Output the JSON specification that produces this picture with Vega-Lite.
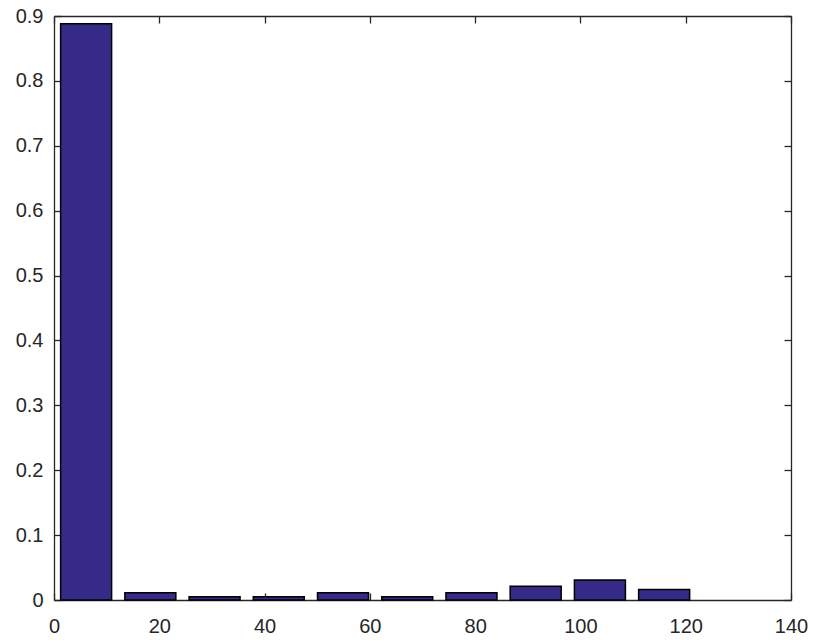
{
  "$schema": "https://vega.github.io/schema/vega-lite/v6.json",
  "width": 737,
  "height": 584,
  "autosize": {"type": "none"},
  "padding": {"left": 54, "top": 16, "right": 40, "bottom": 44},
  "background": "white",
  "config": {
    "view": {"stroke": null},
    "axis": {
      "grid": false,
      "domainColor": "#262626",
      "domainWidth": 1.3,
      "tickColor": "#262626",
      "tickWidth": 1.3,
      "labelColor": "#262626",
      "labelFont": "Liberation Sans",
      "labelFontSize": 20,
      "labelFlush": false,
      "labelOverlap": false,
      "title": null
    }
  },
  "data": {
    "values": [
      {"center": 6.1, "value": 0.888},
      {"center": 18.3, "value": 0.011},
      {"center": 30.5, "value": 0.005},
      {"center": 42.7, "value": 0.005},
      {"center": 54.9, "value": 0.011},
      {"center": 67.1, "value": 0.005},
      {"center": 79.3, "value": 0.011},
      {"center": 91.5, "value": 0.021},
      {"center": 103.7, "value": 0.031},
      {"center": 115.9, "value": 0.016}
    ]
  },
  "resolve": {"axis": {"x": "independent", "y": "independent"}},
  "layer": [
    {
      "mark": {"type": "bar", "size": 51, "fill": "#352a87", "stroke": "#000000", "strokeWidth": 1.5},
      "encoding": {
        "x": {
          "field": "center", "type": "quantitative",
          "scale": {"domain": [0, 140], "nice": false, "zero": false, "padding": 0},
          "axis": {"values": [0, 20, 40, 60, 80, 100, 120, 140], "tickSize": -7, "labelPadding": 23, "labelFontSize": 20, "labelFlush": false, "orient": "bottom"}
        },
        "y": {
          "field": "value", "type": "quantitative",
          "scale": {"domain": [0, 0.9], "nice": false, "padding": 0},
          "axis": {"values": [0, 0.1, 0.2, 0.3, 0.4, 0.5, 0.6, 0.7, 0.8, 0.9], "format": ".1~f", "tickSize": -7, "labelPadding": 18, "labelFontSize": 20, "labelFlush": false, "orient": "left"}
        }
      }
    },
    {
      "mark": {"type": "bar", "size": 51, "opacity": 0},
      "encoding": {
        "x": {
          "field": "center", "type": "quantitative",
          "scale": {"domain": [0, 140], "nice": false, "zero": false, "padding": 0},
          "axis": {"values": [0, 20, 40, 60, 80, 100, 120, 140], "tickSize": -7, "labels": false, "orient": "top"}
        },
        "y": {
          "field": "value", "type": "quantitative",
          "scale": {"domain": [0, 0.9], "nice": false, "padding": 0},
          "axis": {"values": [0, 0.1, 0.2, 0.3, 0.4, 0.5, 0.6, 0.7, 0.8, 0.9], "tickSize": -7, "labels": false, "orient": "right"}
        }
      }
    }
  ]
}
